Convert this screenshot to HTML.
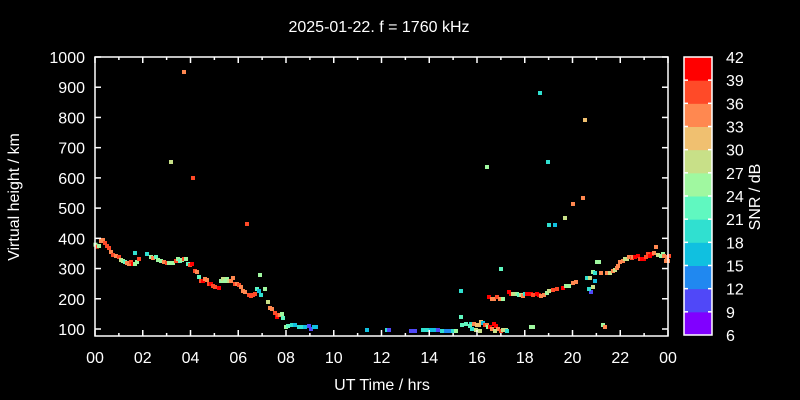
<!DOCTYPE html>
<html><head><meta charset="utf-8"><style>
html,body{margin:0;padding:0;background:#000;}
svg{display:block;font-family:"Liberation Sans",sans-serif;}
</style></head><body>
<svg id="s" width="800" height="400" xmlns="http://www.w3.org/2000/svg">
<rect width="800" height="400" fill="#000"/>
<text x="379" y="32" fill="#fff" font-size="16" text-anchor="middle">2025-01-22. f = 1760 kHz</text>
<text x="382" y="390" fill="#fff" font-size="16" text-anchor="middle">UT Time / hrs</text>
<text transform="translate(19,197) rotate(-90)" fill="#fff" font-size="16" text-anchor="middle">Virtual height / km</text>
<text transform="translate(760,197) rotate(-90)" fill="#fff" font-size="16" text-anchor="middle">SNR / dB</text>
<g id="plot"></g>
<rect x="95" y="57" width="573" height="279" fill="none" stroke="#fff" stroke-width="1.5"/>
<g id="axes" stroke="#fff" stroke-width="1.5"></g>
<g id="lbl" fill="#fff" font-size="16"></g>
</svg>
<script>
var NS="http://www.w3.org/2000/svg";
function el(p,t,a,txt){var e=document.createElementNS(NS,t);for(var k in a)e.setAttribute(k,a[k]);if(txt!=null)e.textContent=txt;document.getElementById(p).appendChild(e);}
var cols=["#8000ff","#5048f8","#2088f0","#10c0e0","#30e0d0","#60f8c0","#a0f8a0","#c8e088","#f0c070","#ff8850","#ff4a28","#ff0000"];
for(var h=0;h<=24;h++){var x=95+h*573/24,L=(h%2==0)?6:3;
 el("axes","line",{x1:x,y1:336,x2:x,y2:336-L});el("axes","line",{x1:x,y1:57,x2:x,y2:57+L});
 if(h%2==0)el("lbl","text",{x:x,y:363,"text-anchor":"middle"},(h==24?"00":(h<10?"0":"")+h));}
for(var v=100;v<=1000;v+=100){var y=329-(v-100)*272/900;
 el("axes","line",{x1:95,y1:y,x2:101,y2:y});el("axes","line",{x1:668,y1:y,x2:662,y2:y});
 el("lbl","text",{x:85,y:y+6,"text-anchor":"end"},""+v);}
var cx=684,cy=57,cw=28,ch=278;
for(var i=0;i<12;i++){var yy=cy+ch-(i+1)*ch/12;el("plot","rect",{x:cx,y:yy,width:cw,height:ch/12+0.5,fill:cols[i]});}
el("axes","rect",{x:cx,y:cy,width:cw,height:ch,fill:"none"});
for(var i=0;i<=12;i++){var yy=cy+ch-i*ch/12;
 if(i>0&&i<12){el("axes","line",{x1:cx,y1:yy,x2:cx+4,y2:yy});el("axes","line",{x1:cx+cw,y1:yy,x2:cx+cw-4,y2:yy});}
 el("lbl","text",{x:726,y:yy+6},""+(6+3*i));}
var P=[[95.5,244.7,6],[97,246.7,10],[99,246,6],[101,241,9],[103,240,9],[105,243,10],[107,246,10],[109,248,10],[111,252,9],[113,255,10],[116,256,9],[119,257,10],[121,260,7],[123,261,6],[125,262,5],[127,263,9],[129,264,9],[131,262,10],[133,264,11],[135,264,6],[137,262,6],[139,259,10],[135,253,4],[147,254,4],[151,257,6],[153,258,9],[156,257,5],[158,260,6],[161,261,6],[164,262,9],[167,263,10],[169,263,6],[173,263,6],[176,261,10],[178,259,6],[180,261,5],[182,260,6],[184,259,10],[186,259,6],[188,264,5],[190,265,10],[192,264,11],[195,271,10],[197,272,9],[199,277,5],[201,281,10],[203,281,11],[205,279,9],[207,280,9],[209,284,10],[211,284,11],[213,286,10],[215,287,10],[219,288,11],[221,281,6],[223,279,7],[225,281,6],[227,279,6],[229,281,7],[231,281,9],[233,278,9],[235,284,10],[237,284,9],[239,285,10],[241,287,9],[243,291,9],[245,292,9],[249,295,10],[251,296,10],[253,295,10],[255,294,10],[257,289,5],[259,291,3],[260,275,6],[261,295,4],[265,289,6],[268,302,7],[270,308,9],[272,309,9],[275,313,10],[277,317,11],[278,315,10],[280,315,9],[282,314,6],[283,318,5],[286,327,6],[288,326,5],[292,325,4],[295,325,3],[299,327,4],[302,327,4],[305,327,3],[309,326,1],[311,329,1],[314,327,3],[316,327,3],
[367,330,3],[387,330,4],[389,330,1],[411,331,1],[415,331,1],[423,330,4],[427,330,4],[431,330,3],[435,330,3],[438,330,1],[442,331,4],[446,331,2],[450,331,2],[453,331,4],[456,331,6],[461,317,5],[462,325,5],[466,324,5],[471,324,4],[474,324,9],[477,325,8],[479,325,8],[481,322,8],[483,323,3],[485,325,10],[487,325,9],[488,327,6],[490,327,11],[492,329,9],[494,324,11],[496,326,11],[498,329,9],[501,331,10],[503,330,7],[461,291,4],
[171,162,7],[184,72,9],[193,178,10],[247,224,10],[487,167,6],[540,93,4],[548,162,4],[549,225,4],[555,225,3],[565,218,7],[573,204,9],[583,198,9],[585,120,8],[501,269,5],
[489,297,11],[492,299,9],[494,299,9],[497,297,10],[500,299,9],[503,299,6],[509,292,11],[511,294,11],[513,294,7],[517,294,6],[519,295,5],[521,295,7],[523,296,9],[525,294,4],[527,294,11],[531,294,11],[533,295,10],[537,294,11],[539,295,11],[541,296,9],[544,295,9],[547,293,6],[549,291,7],[553,290,10],[557,289,10],[563,288,11],[566,286,6],[569,286,6],[573,283,9],[576,282,9],[587,278,4],[590,278,7],[593,272,6],[595,273,4],[591,292,1],[589,289,4],[593,287,7],[595,281,3],[597,262,6],[599,262,6],[601,273,9],[607,273,9],[610,273,7],[613,271,9],[615,270,7],[617,268,9],[618,266,9],[620,262,9],[623,261,9],[625,259,7],[627,259,7],[629,257,9],[632,258,10],[633,257,9],[635,257,11],[638,256,11],[640,259,10],[642,259,11],[644,259,11],[646,257,10],[648,254,10],[650,256,11],[652,254,11],[654,253,9],[656,247,9],[658,255,7],[661,256,6],[663,254,6],[664,256,9],[667,257,9],[669,256,10],[666,261,9],[668,261,9],
[470,326,5],[472,329,4],[476,330,7],[480,331,7],[495,331,7],[506,330,7],[507,331,4],[531,327,6],[533,327,6],[603,325,6],[605,327,9]];
P.forEach(function(p){el("plot","rect",{x:p[0]-2,y:p[1]-2,width:4,height:4,fill:cols[p[2]]});});
</script>
</body></html>
